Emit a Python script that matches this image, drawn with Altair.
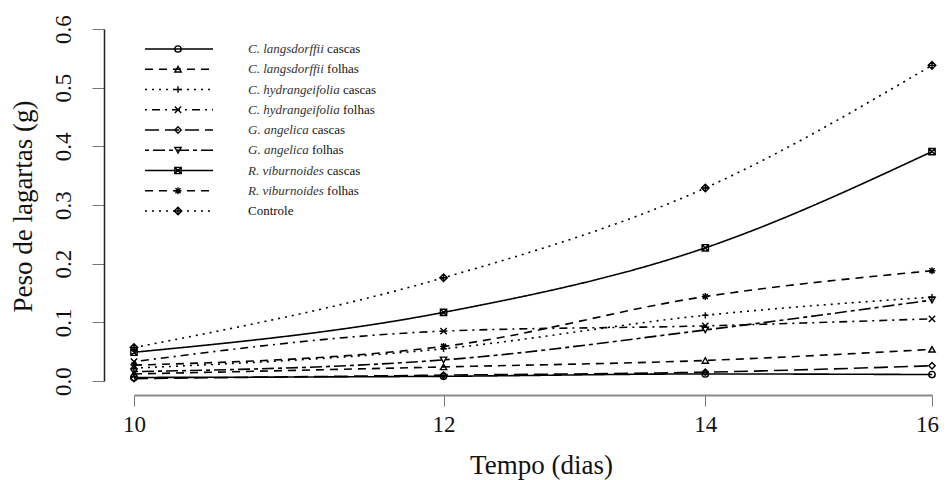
import altair as alt
import pandas as pd

# ---- data ----
dias = [10, 12, 14, 16]
series_names = [
    "C. langsdorffii cascas",
    "C. langsdorffii folhas",
    "C. hydrangeifolia cascas",
    "C. hydrangeifolia folhas",
    "G. angelica cascas",
    "G. angelica folhas",
    "R. viburnoides cascas",
    "R. viburnoides folhas",
    "Controle",
]
italic_part = ["C. langsdorffii", "C. langsdorffii", "C. hydrangeifolia", "C. hydrangeifolia",
               "G. angelica", "G. angelica", "R. viburnoides", "R. viburnoides", ""]
suffix_part = ["cascas", "folhas", "cascas", "folhas", "cascas", "folhas", "cascas", "folhas", "Controle"]

c_lang_cascas = [0.006, 0.008, 0.012, 0.011]
c_lang_folhas = [0.012, 0.024, 0.035, 0.054]
c_hydr_cascas = [0.022, 0.055, 0.112, 0.143]
c_hydr_folhas = [0.033, 0.085, 0.094, 0.106]
g_ang_cascas = [0.004, 0.010, 0.015, 0.026]
g_ang_folhas = [0.016, 0.036, 0.087, 0.138]
r_vib_cascas = [0.049, 0.117, 0.227, 0.391]
r_vib_folhas = [0.027, 0.059, 0.144, 0.188]
controle = [0.057, 0.176, 0.329, 0.538]

all_values = [c_lang_cascas, c_lang_folhas, c_hydr_cascas, c_hydr_folhas,
              g_ang_cascas, g_ang_folhas, r_vib_cascas, r_vib_folhas, controle]

rows = []
for name, vals in zip(series_names, all_values):
    for d, v in zip(dias, vals):
        rows.append({"serie": name, "dias": d, "peso": v})
df = pd.DataFrame(rows)

# ---- styles (R lty 1..6,1,2,3 and pch 1..9) ----
dashes = [[1, 0], [8, 6], [2, 5], [2, 5, 8, 5], [14, 6], [4, 4, 12, 4], [1, 0], [8, 6], [2, 5]]
PLUS = "M-1,0H1M0,-1V1"
CROSS = "M-1,-1L1,1M-1,1L1,-1"
SQX = "M-1,-1H1V1H-1ZM-1,-1L1,1M-1,1L1,-1"
AST = "M-1.1,0H1.1M0,-1.1V1.1M-0.8,-0.8L0.8,0.8M-0.8,0.8L0.8,-0.8"
DPLUS = "M0,-1.2L1.2,0L0,1.2L-1.2,0ZM-1.2,0H1.2M0,-1.2V1.2"
shapes = ["circle", "triangle-up", PLUS, CROSS, "diamond", "triangle-down", SQX, AST, DPLUS]

FONT = "Liberation Serif"
W, H = 798, 352

dash_scale = alt.Scale(domain=series_names, range=dashes)
shape_scale = alt.Scale(domain=series_names, range=shapes)

xscale = alt.Scale(type="log", domain=[10, 16], nice=False)
yscale = alt.Scale(domain=[0, 0.6], nice=False, zero=False)

lines = alt.Chart(df).mark_line(color="black", strokeWidth=1.6, interpolate="monotone").encode(
    x=alt.X("dias:Q", scale=xscale,
            axis=alt.Axis(values=dias, format="d", title="Tempo (dias)", offset=14,
                          tickSize=11, labelPadding=25, labelBaseline="alphabetic",
                          labelFlush=False, labelAlign="center",
                          labelOffset=alt.expr("datum.value == 16 ? -5 : 0"),
                          titleX=407, titleY=78, titleBaseline="alphabetic",
                          domainColor="#8a8a8a", domainWidth=2, tickColor="#777")),
    y=alt.Y("peso:Q", scale=yscale,
            axis=alt.Axis(values=[0, 0.1, 0.2, 0.3, 0.4, 0.5, 0.6], format=".1f",
                          title="Peso de lagartas (g)", offset=30, tickSize=12,
                          labelAngle=-90, labelAlign="center", labelBaseline="alphabetic",
                          labelFlush=False,
                          labelPadding=22, titleAngle=-90, titleX=-73, titleY=177,
                          titleAlign="center", titleBaseline="alphabetic",
                          domainColor="#222", domainWidth=1.5, tickColor="#777")),
    strokeDash=alt.StrokeDash("serie:N", scale=dash_scale, legend=None),
    detail="serie:N",
)

points = alt.Chart(df).mark_point(color="black", filled=False, size=40, strokeWidth=1.4, opacity=1).encode(
    x=alt.X("dias:Q", scale=xscale),
    y=alt.Y("peso:Q", scale=yscale),
    shape=alt.Shape("serie:N", scale=shape_scale, legend=None),
)

data_layer = alt.layer(lines, points)

# ---- manual legend with mixed italic / regular text ----
ital_w = {' ': 250, '.': 250, 'C': 667, 'G': 722, 'R': 611, 'a': 500, 'b': 500, 'c': 444,
          'd': 500, 'e': 444, 'f': 278, 'g': 500, 'h': 500, 'i': 278, 'l': 278, 'n': 500,
          'o': 500, 'r': 389, 's': 389, 'u': 500, 'v': 444, 'y': 444, 't': 278, 'p': 500}
LFS = 13
TX = 114


def suffix_x(it):
    if not it:
        return TX
    return TX + sum(ital_w.get(ch, 500) for ch in it) * LFS / 1000 + 250 * LFS / 1000


leg = pd.DataFrame({
    "serie": series_names,
    "row": list(range(len(series_names))),
    "ital": italic_part,
    "suf": suffix_part,
})
leg["sx"] = [suffix_x(t) for t in italic_part]

ly = alt.Y("row:Q", scale=alt.Scale(domain=[0, 8], range=[20, 182]), axis=None)

leg_rule = alt.Chart(leg).mark_rule(color="black", strokeWidth=1.6).encode(
    x=alt.value(11), x2=alt.value(79), y=ly,
    strokeDash=alt.StrokeDash("serie:N", scale=dash_scale, legend=None),
)
leg_pts = alt.Chart(leg).mark_point(color="black", filled=False, size=40, strokeWidth=1.4, opacity=1).encode(
    x=alt.value(44), y=ly,
    shape=alt.Shape("serie:N", scale=shape_scale, legend=None),
)
leg_it = alt.Chart(leg).mark_text(font=FONT, fontSize=LFS, fontStyle="italic", align="left",
                                  baseline="middle", color="#333").encode(
    x=alt.value(TX), y=ly, text="ital:N",
)
leg_suf = alt.Chart(leg).mark_text(font=FONT, fontSize=LFS, align="left",
                                   baseline="middle", color="#111").encode(
    x=alt.X("sx:Q", scale=alt.Scale(domain=[0, W], range=[0, W]), axis=None),
    y=ly, text="suf:N",
)
legend_layer = alt.layer(leg_rule, leg_pts, leg_it, leg_suf).resolve_scale(x="independent", y="shared")

chart = alt.layer(data_layer, legend_layer).resolve_scale(
    x="independent", y="independent"
).properties(
    width=W, height=H,
    autosize=alt.AutoSizeParams(type="none"),
    padding={"left": 126, "top": 21, "right": 8, "bottom": 99},
).configure_view(stroke=None).configure_axis(
    grid=False, labelFont=FONT, titleFont=FONT, labelFontSize=23, titleFontSize=27,
    titleFontWeight="normal", labelColor="#111", titleColor="#111",
)

chart.save("out.html", embed_options={"renderer": "svg", "actions": False})
